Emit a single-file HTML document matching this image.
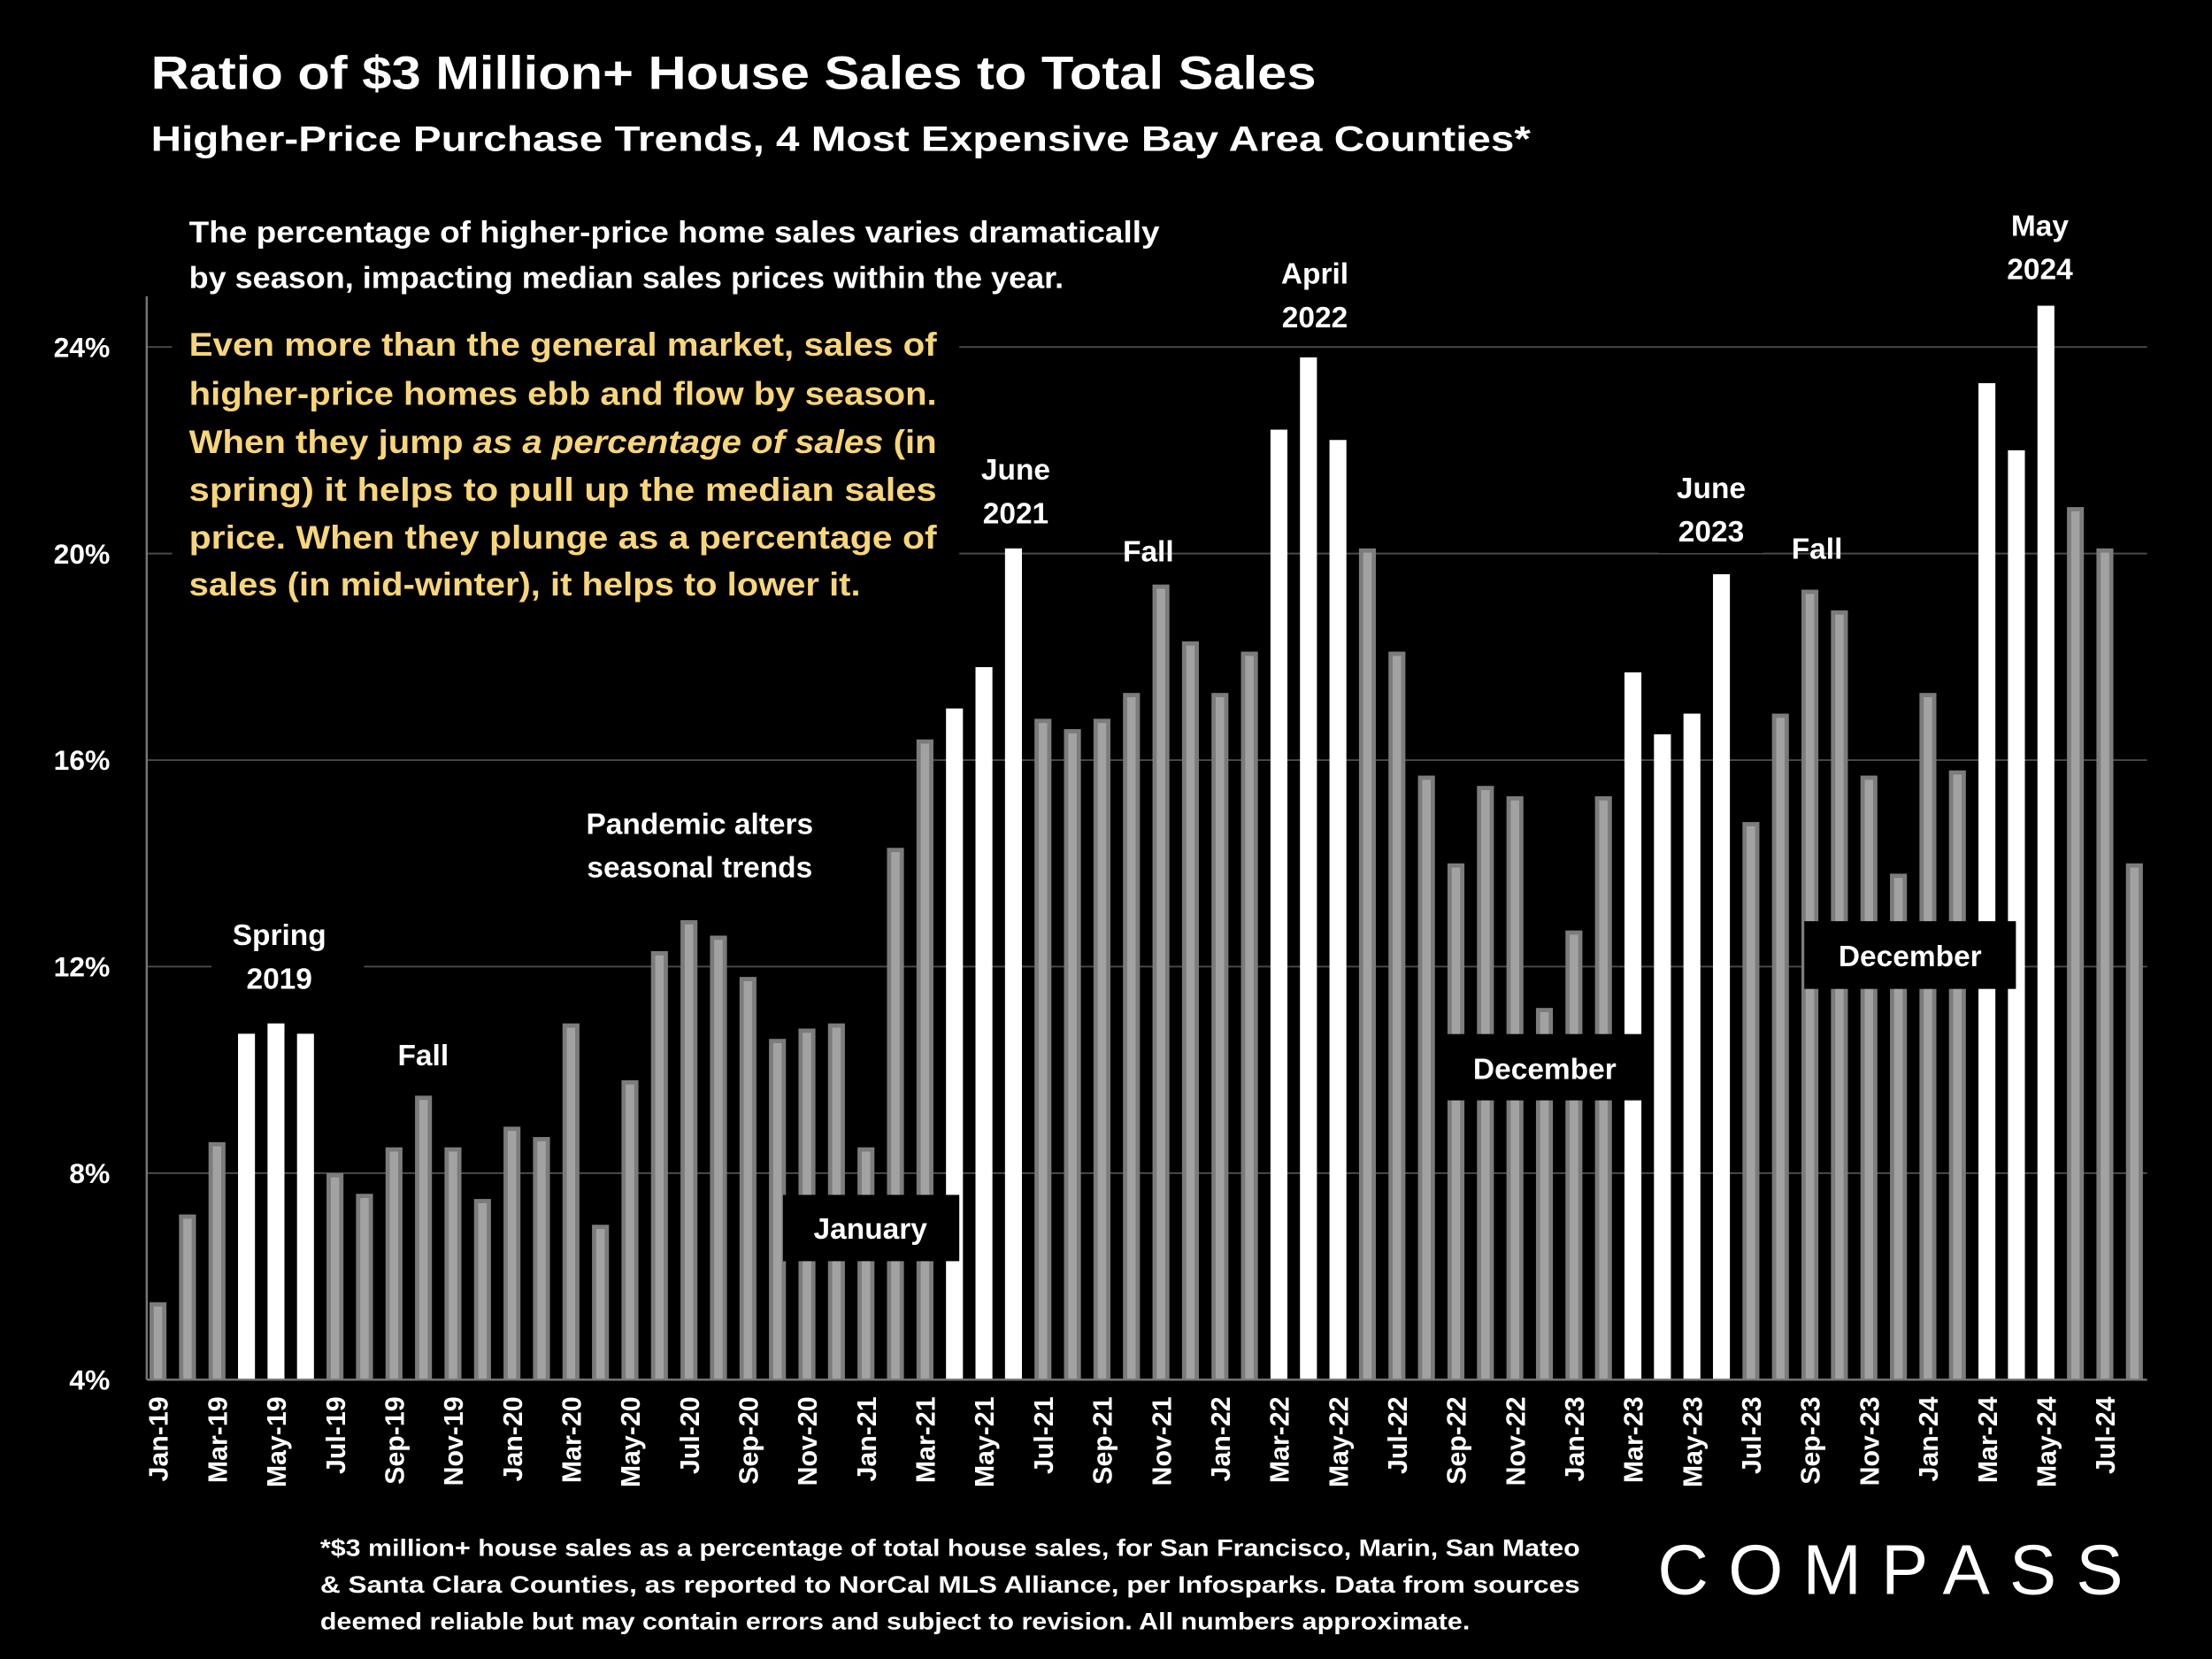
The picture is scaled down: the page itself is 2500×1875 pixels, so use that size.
<!DOCTYPE html>
<html><head><meta charset="utf-8"><style>
html,body{margin:0;padding:0;background:#000;}
svg{display:block;font-family:"Liberation Sans",sans-serif;}
</style></head><body>
<svg id="chart" width="2500" height="1875" viewBox="0 0 1568 1176" xmlns="http://www.w3.org/2000/svg">
<rect x="0" y="0" width="1568" height="1176" fill="#000"/>
<text x="107" y="63" fill="#fff" font-size="33" font-weight="bold" textLength="826" lengthAdjust="spacingAndGlyphs">Ratio of $3 Million+ House Sales to Total Sales</text>
<text x="107" y="107" fill="#fff" font-size="25" font-weight="bold" textLength="978" lengthAdjust="spacingAndGlyphs">Higher-Price Purchase Trends, 4 Most Expensive Bay Area Counties*</text>
<g id="grid"></g>
<g id="bars"></g>
<g id="yticks"></g>
<g id="xticks"></g>
<line x1="104" y1="210" x2="104" y2="978" stroke="#777" stroke-width="1.5"/>
<line x1="104" y1="978" x2="1522" y2="978" stroke="#777" stroke-width="1.5"/>

<g font-size="21.5" font-weight="bold" fill="#fff">
<text x="134" y="172" textLength="688" lengthAdjust="spacingAndGlyphs">The percentage of higher-price home sales varies dramatically</text>
<text x="134" y="204" textLength="620" lengthAdjust="spacingAndGlyphs">by season, impacting median sales prices within the year.</text>
</g>
<rect x="122" y="222" width="558" height="210" fill="#000"/>
<g font-size="23" font-weight="bold" fill="#f7d57a">
<text x="134" y="252" textLength="530" lengthAdjust="spacingAndGlyphs">Even more than the general market, sales of</text>
<text x="134" y="287" textLength="530" lengthAdjust="spacingAndGlyphs">higher-price homes ebb and flow by season.</text>
<text x="134" y="321" textLength="530" lengthAdjust="spacingAndGlyphs">When they jump <tspan font-style="italic">as a percentage of sales</tspan> (in</text>
<text x="134" y="355" textLength="530" lengthAdjust="spacingAndGlyphs">spring) it helps to pull up the median sales</text>
<text x="134" y="389" textLength="530" lengthAdjust="spacingAndGlyphs">price. When they plunge as a percentage of</text>
<text x="134" y="422" textLength="476" lengthAdjust="spacingAndGlyphs">sales (in mid-winter), it helps to lower it.</text>
</g>

<g id="annotations" font-size="21" font-weight="bold" fill="#fff" text-anchor="middle">
<rect x="150" y="648" width="108" height="64" fill="#000"/>
<text x="198" y="670">Spring</text>
<text x="198" y="701">2019</text>
<text x="300" y="755">Fall</text>
<text x="496" y="591">Pandemic alters</text>
<text x="496" y="622">seasonal trends</text>
<rect x="684" y="318" width="74" height="66" fill="#000"/>
<text x="720" y="340">June</text>
<text x="720" y="371">2021</text>
<text x="814" y="398">Fall</text>
<text x="932" y="201">April</text>
<text x="932" y="232">2022</text>
<rect x="1176" y="330" width="74" height="62" fill="#000"/>
<text x="1213" y="353">June</text>
<text x="1213" y="384">2023</text>
<text x="1288" y="396">Fall</text>
<text x="1446" y="167">May</text>
<text x="1446" y="198">2024</text>
<rect x="555" y="847" width="125" height="47" fill="#000"/>
<text x="617" y="878">January</text>
<rect x="1024" y="733" width="142" height="47" fill="#000"/>
<text x="1095" y="765">December</text>
<rect x="1279" y="653" width="150" height="48" fill="#000"/>
<text x="1354" y="685">December</text>
</g>

<g font-size="17" font-weight="bold" fill="#fff">
<text x="227" y="1103" textLength="893" lengthAdjust="spacingAndGlyphs">*$3 million+ house sales as a percentage of total house sales, for San Francisco, Marin, San Mateo</text>
<text x="227" y="1129" textLength="893" lengthAdjust="spacingAndGlyphs">&amp; Santa Clara Counties, as reported to NorCal MLS Alliance, per Infosparks. Data from sources</text>
<text x="227" y="1155" textLength="815" lengthAdjust="spacingAndGlyphs">deemed reliable but may contain errors and subject to revision. All numbers approximate.</text>
</g>
<text x="1175" y="1130" fill="#fff" font-size="50" textLength="330" lengthAdjust="spacing">COMPASS</text>
</svg>
<script>
const categories = [];
const yrs=['19','20','21','22','23','24'], mons=['Jan','Feb','Mar','Apr','May','Jun','Jul','Aug','Sep','Oct','Nov','Dec'];
for (const y of yrs) for (let m=0;m<12;m++){ if(y==='24'&&m>7)break; categories.push(mons[m]+'-'+y); }
const values = [5.5,7.2,8.6,10.7,10.9,10.7,8.0,7.6,8.5,9.5,8.5,7.5,
 8.9,8.7,10.9,7.0,9.8,12.3,12.9,12.6,11.8,10.6,10.8,10.9,
 8.5,14.3,16.4,17.0,17.8,20.1,16.8,16.6,16.8,17.3,19.4,18.3,
 17.3,18.1,22.4,23.8,22.2,20.1,18.1,15.7,14.0,15.5,15.3,11.2,
 12.7,15.3,17.7,16.5,16.9,19.6,14.8,16.9,19.3,18.9,15.7,13.8,
 17.3,15.8,23.3,22.0,24.8,20.9,20.1,14.0];
const highlighted = ['Apr-19','May-19','Jun-19','Apr-21','May-21','Jun-21','Mar-22','Apr-22','May-22','Mar-23','Apr-23','May-23','Jun-23','Mar-24','Apr-24','May-24'];
const yTicks = [4,8,12,16,20,24];
const NS='http://www.w3.org/2000/svg';
const yScale = v => 978 - (v-4)*(978-246)/20;
const xScale = i => 112 + i*(1513-112)/(categories.length-1);
function mk(tag, attrs, parent){const e=document.createElementNS(NS,tag);for(const k in attrs)e.setAttribute(k,attrs[k]);parent.appendChild(e);return e;}
const grid=document.getElementById('grid'), bars=document.getElementById('bars'), yt=document.getElementById('yticks'), xt=document.getElementById('xticks');
yTicks.forEach(t=>{
  const y=yScale(t);
  if(t>4){const l=mk('line',{x1:104,x2:1522,y1:y,y2:y,stroke:'#4a4a4a','stroke-width':1.2},grid);
  
  }
  const tx=mk('text',{x:78,y:y+7,'text-anchor':'end',fill:'#fff','font-size':20,'font-weight':'bold'},yt);
  tx.textContent=t+'%';
  
  
});
values.forEach((v,i)=>{
  const x=xScale(i), y=yScale(v), w=12, hi=highlighted.includes(categories[i]);
  const g=mk('g',{},bars);
  
  
  if(hi){ mk('rect',{x:x-w/2,y:y,width:w,height:978-y,fill:'#fff'},g); }
  else { mk('rect',{x:x-w/2,y:y,width:w,height:978-y,fill:'#7c7c7c'},g);
         mk('rect',{x:x-w/2+3,y:y+3,width:w-6,height:978-y-3,fill:'#a2a2a2'},g); }
  if(i%2===0){
    const t=mk('text',{transform:`translate(${x+7},990) rotate(-90)`,'text-anchor':'end',fill:'#fff','font-size':19,'font-weight':'bold'},xt);
    t.textContent=categories[i];
    
    
  }
});
const svg=document.getElementById('chart');
svg.appendChild(document.getElementById('annotations'));
</script>
</body></html>
